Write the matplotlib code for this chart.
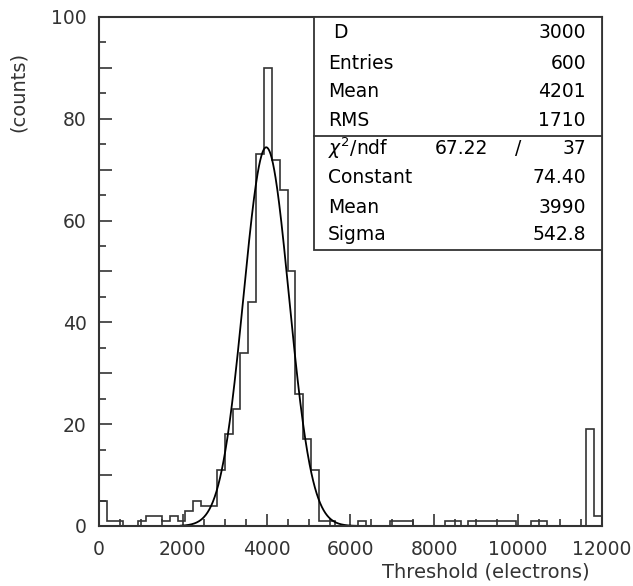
import numpy as np
import matplotlib
matplotlib.use("Agg")
import matplotlib.pyplot as plt
from matplotlib.ticker import MultipleLocator, FuncFormatter

# histogram: 64 bins from 0 to 12000 electrons
x_min, x_max, n_bins = 0, 12000, 64
counts = [5, 1, 1, 0, 0, 1, 2, 2, 1, 2, 1, 3, 5, 4, 4, 11,
          18, 23, 34, 44, 73, 90, 72, 66, 50, 26, 17, 11, 1, 1, 0, 0,
          0, 1, 0, 0, 0, 1, 1, 1, 0, 0, 0, 0, 1, 1, 0, 1,
          1, 1, 1, 1, 1, 0, 0, 1, 1, 0, 0, 0, 0, 0, 19, 2]

# gaussian fit result
fit_const, fit_mean, fit_sigma = 74.40, 3990, 542.8
fit_range = (1950, 6150)

# stats box contents
stat_rows = [("D", "3000"), ("Entries", "600"), ("Mean", "4201"), ("RMS", "1710")]
fit_rows = [("Constant", "74.40"), ("Mean", "3990"), ("Sigma", "542.8")]
chi2_text, ndf_text = "67.22", "37"

plt.rcParams["font.family"] = ["DejaVu Sans"]
fig = plt.figure(figsize=(6.33, 5.86), dpi=100)
ax = fig.add_axes([0.1564, 0.1024, 0.7946, 0.8686])

edges = np.linspace(x_min, x_max, n_bins + 1)
ax.stairs(counts, edges, color="#333333", lw=1.2)

xf = np.linspace(fit_range[0], fit_range[1], 400)
yf = fit_const * np.exp(-0.5 * ((xf - fit_mean) / fit_sigma) ** 2)
ax.plot(xf, yf, color="black", lw=1.3)

ax.set_xlim(x_min, x_max)
ax.set_ylim(0, 100)

ax.xaxis.set_major_locator(MultipleLocator(2000))
ax.xaxis.set_minor_locator(MultipleLocator(500))
ax.yaxis.set_major_locator(MultipleLocator(10))
ax.yaxis.set_minor_locator(MultipleLocator(5))
ax.yaxis.set_major_formatter(FuncFormatter(lambda v, p: "%d" % v if int(v) % 20 == 0 else ""))
ax.tick_params(which="both", direction="in", top=False, right=False,
               labelsize=13.5, labelcolor="#333333", color="#333333")
ax.tick_params(which="major", length=9, width=1.2)
ax.tick_params(which="minor", length=5, width=1.2)
ax.tick_params(axis="x", pad=10)
ax.tick_params(axis="y", pad=9)
for s in ax.spines.values():
    s.set_linewidth(1.5)
    s.set_color("#333333")

ax.set_xlabel("Threshold (electrons)", fontsize=14, color="#333333", ha="right", va="center")
ax.xaxis.set_label_coords(0.976, -0.09)
ax.set_ylabel("(counts)", fontsize=14, color="#333333", ha="center", va="center")
ax.yaxis.set_label_coords(-0.161, 0.853)

# stats box
bx0, by0, by_div = 0.4274, 0.542, 0.766
ax.add_patch(plt.Rectangle((bx0, by0), 1 - bx0, 1 - by0, transform=ax.transAxes,
                           fill=True, facecolor="white", edgecolor="#333333", lw=1.3, zorder=5))
ax.plot([bx0, 1], [by_div, by_div], transform=ax.transAxes, color="#333333", lw=1.3, zorder=6)

fs = 13.5
row_y = [0.9686, 0.9096, 0.8527, 0.7976]
for (name, val), y in zip(stat_rows, row_y):
    xl = 0.465 if name == "D" else 0.455
    ax.text(xl, y, name, transform=ax.transAxes, fontsize=fs, va="center", ha="left", zorder=7)
    ax.text(0.968, y, val, transform=ax.transAxes, fontsize=fs, va="center", ha="right", zorder=7)

ax.text(0.455, 0.7426, r"$\chi^{2}$/ndf", transform=ax.transAxes, fontsize=fs, va="center", ha="left", zorder=7)
ax.text(0.773, 0.7426, chi2_text, transform=ax.transAxes, fontsize=fs, va="center", ha="right", zorder=7)
ax.text(0.833, 0.7426, "/", transform=ax.transAxes, fontsize=fs, va="center", ha="center", zorder=7)
ax.text(0.968, 0.7426, ndf_text, transform=ax.transAxes, fontsize=fs, va="center", ha="right", zorder=7)

for (name, val), y in zip(fit_rows, [0.6837, 0.6267, 0.5717]):
    ax.text(0.455, y, name, transform=ax.transAxes, fontsize=fs, va="center", ha="left", zorder=7)
    ax.text(0.968, y, val, transform=ax.transAxes, fontsize=fs, va="center", ha="right", zorder=7)

fig.savefig("out.png", dpi=100)
plt.close(fig)
